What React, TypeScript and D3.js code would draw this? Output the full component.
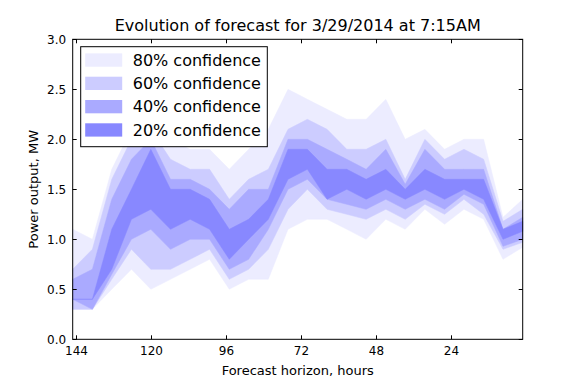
import React, { useEffect, useRef } from "react";
import * as d3 from "d3";

const width = 581;
const height = 388;
const margin = { top: 39.3, right: 58.3, bottom: 48.7, left: 72.7 };

// forecast horizon (hours) of each forecast issue
const horizons = [145, 138.7, 132.5, 126.2, 120, 113.7, 107.4, 101.2, 94.9, 88.7, 82.4, 76.1,
  69.9, 63.6, 57.3, 51.1, 44.8, 38.6, 32.3, 26, 19.8, 13.5, 7.3, 1];

// band edges, MW
const lo80 = [0.3, 0.3, 0.5, 0.7, 0.5, 0.6, 0.7, 0.8, 0.5, 0.6, 0.6, 1.1, 1.2, 1.2, 1.1, 1.0, 1.2, 1.1, 1.3, 1.15, 1.3, 1.2, 0.8, 0.92];
const lo60 = [0.3, 0.3, 0.6, 0.9, 0.7, 0.7, 0.8, 0.9, 0.6, 0.7, 0.9, 1.3, 1.5, 1.3, 1.25, 1.2, 1.3, 1.2, 1.35, 1.25, 1.4, 1.25, 0.9, 0.97];
const lo40 = [0.4, 0.3, 0.65, 1.0, 1.1, 0.9, 1.0, 1.0, 0.7, 0.8, 1.1, 1.5, 1.6, 1.4, 1.35, 1.3, 1.4, 1.3, 1.4, 1.3, 1.45, 1.35, 0.93, 1.0];
const lo20 = [0.4, 0.4, 0.7, 1.2, 1.3, 1.1, 1.2, 1.1, 0.8, 1.0, 1.2, 1.6, 1.7, 1.4, 1.5, 1.4, 1.5, 1.4, 1.5, 1.4, 1.5, 1.4, 1.0, 1.08];
const hi20 = [0.4, 0.4, 1.1, 1.5, 1.9, 1.5, 1.5, 1.4, 1.1, 1.2, 1.4, 1.9, 1.9, 1.7, 1.7, 1.6, 1.7, 1.5, 1.7, 1.6, 1.6, 1.6, 1.1, 1.18];
const hi40 = [0.6, 0.7, 1.4, 1.8, 2.0, 1.6, 1.6, 1.5, 1.3, 1.5, 1.5, 2.0, 2.0, 1.9, 1.8, 1.7, 1.9, 1.55, 1.9, 1.7, 1.7, 1.7, 1.1, 1.22];
const hi60 = [0.7, 0.9, 1.6, 2.0, 2.1, 1.8, 1.7, 1.7, 1.4, 1.6, 1.7, 2.1, 2.2, 2.1, 1.9, 1.9, 2.0, 1.6, 2.0, 1.8, 1.9, 1.8, 1.18, 1.3];
const hi80 = [1.1, 1.0, 1.7, 2.1, 2.2, 2.0, 1.9, 1.9, 1.7, 1.9, 2.1, 2.5, 2.4, 2.3, 2.2, 2.2, 2.4, 2.0, 2.1, 1.9, 2.0, 2.0, 1.22, 1.4];

const bands = [
  { label: "80% confidence", lo: lo80, hi: hi80, color: "#ececff" },
  { label: "60% confidence", lo: lo60, hi: hi60, color: "#ccccff" },
  { label: "40% confidence", lo: lo40, hi: hi40, color: "#aaaaff" },
  { label: "20% confidence", lo: lo20, hi: hi20, color: "#8888ff" },
];

const xTicks = [144, 120, 96, 72, 48, 24];
const yTicks = [0, 0.5, 1.0, 1.5, 2.0, 2.5, 3.0];

export default function App() {
  const ref = useRef<SVGSVGElement>(null);

  useEffect(() => {
    const svg = d3.select(ref.current);
    svg.selectAll("*").remove();

    const x0 = margin.left, x1 = width - margin.right;
    const y0 = height - margin.bottom, y1 = margin.top;
    const x = d3.scaleLinear().domain([145, 1]).range([x0, x1]);
    const y = d3.scaleLinear().domain([0, 3]).range([y0, y1]);

    const font = "DejaVu Sans, sans-serif";

    // bands, widest first so narrower ones sit on top
    bands.forEach(b => {
      const area = d3.area<number>()
        .x((d, i) => x(horizons[i]))
        .y0((d, i) => y(b.lo[i]))
        .y1((d, i) => y(b.hi[i]));
      svg.append("path")
        .attr("d", area(horizons))
        .attr("fill", b.color)
        .attr("stroke", b.color)
        .attr("stroke-width", 0.5);
    });

    // frame
    svg.append("rect")
      .attr("x", x0).attr("y", y1)
      .attr("width", x1 - x0).attr("height", y0 - y1)
      .attr("fill", "none").attr("stroke", "#000").attr("stroke-width", 1);

    const tl = 4;
    // x ticks, inside, bottom and top
    xTicks.forEach(t => {
      const px = Math.round(x(t)) + 0.5;
      svg.append("line").attr("x1", px).attr("x2", px).attr("y1", y0).attr("y2", y0 - tl).attr("stroke", "#000");
      svg.append("line").attr("x1", px).attr("x2", px).attr("y1", y1).attr("y2", y1 + tl).attr("stroke", "#000");
      svg.append("text")
        .attr("x", px).attr("y", y0 + 16)
        .attr("text-anchor", "middle")
        .style("font-family", font).style("font-size", "12px")
        .text(t);
    });

    // y ticks, inside, left and right
    yTicks.forEach(t => {
      const py = Math.round(y(t)) + 0.5;
      svg.append("line").attr("x1", x0).attr("x2", x0 + tl).attr("y1", py).attr("y2", py).attr("stroke", "#000");
      svg.append("line").attr("x1", x1).attr("x2", x1 - tl).attr("y1", py).attr("y2", py).attr("stroke", "#000");
      svg.append("text")
        .attr("x", x0 - 6.5).attr("y", py + 4.5)
        .attr("text-anchor", "end")
        .style("font-family", font).style("font-size", "12px")
        .text(d3.format(".1f")(t));
    });

    svg.append("text")
      .attr("x", (x0 + x1) / 2).attr("y", 31)
      .attr("text-anchor", "middle")
      .style("font-family", font).style("font-size", "16px")
      .text("Evolution of forecast for 3/29/2014 at 7:15AM");

    svg.append("text")
      .attr("x", (x0 + x1) / 2).attr("y", 375)
      .attr("text-anchor", "middle")
      .style("font-family", font).style("font-size", "13px")
      .text("Forecast horizon, hours");

    svg.append("text")
      .attr("transform", `translate(38,${(y0 + y1) / 2}) rotate(-90)`)
      .attr("text-anchor", "middle")
      .style("font-family", font).style("font-size", "13px")
      .text("Power output, MW");

    // legend
    const lg = svg.append("g").attr("transform", "translate(80.7,46.7)");
    lg.append("rect")
      .attr("x", 0).attr("y", 0).attr("width", 186.6).attr("height", 100)
      .attr("fill", "#fff").attr("stroke", "#000").attr("stroke-width", 1);
    bands.forEach((b, i) => {
      lg.append("rect")
        .attr("x", 4.5).attr("y", 6.7 + i * 23.3)
        .attr("width", 37).attr("height", 13.3)
        .attr("fill", b.color);
      lg.append("text")
        .attr("x", 52).attr("y", 19 + i * 23.3)
        .style("font-family", font).style("font-size", "16px")
        .text(b.label);
    });
  }, []);

  return (
    <svg ref={ref} width={width} height={height}
      style={{ position: "absolute", left: 0, top: 0, background: "#fff" }} />
  );
}
